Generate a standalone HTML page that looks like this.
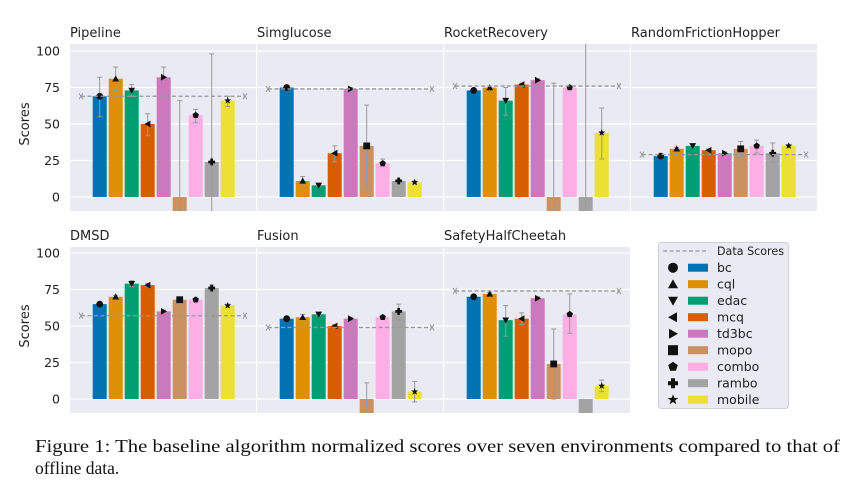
<!DOCTYPE html>
<html><head><meta charset="utf-8"><style>
body{margin:0;background:#fff;width:865px;height:492px;overflow:hidden}
svg{display:block}
</style></head><body>
<svg id="chart" width="865" height="492" xmlns="http://www.w3.org/2000/svg" font-family="'DejaVu Sans','Liberation Sans',sans-serif"></svg>
<script>
const algos = ["bc","cql","edac","mcq","td3bc","mopo","combo","rambo","mobile"];
const colors = ["#0173b2","#de8f05","#029e73","#d55e00","#cc78bc","#ca9161","#fbafe4","#a3a3a3","#ece133"];
const markers = ["circle","up","down","left","right","square","pentagon","plus","star"];
const envs = ["Pipeline","Simglucose","RocketRecovery","RandomFrictionHopper","DMSD","Fusion","SafetyHalfCheetah"];
const dataScores = [69,74,76,29,57,49,74];
const scores = [
 [69,81,73,50,82,-12,56,24,66],
 [75,11,8,30,74,35,23,11,10],
 [73,75,66,77,80,-12,75,-12,44],
 [28,33,35,32,30,33,35,30,35],
 [65,70,79,78,60,68,68,76,64],
 [55,56,58,50,55,-12,56,60,5],
 [70,72,54,55,69,24,58,-12,9]
];
const errLo = [
 [55,73,69,42,75,-12,51,-12,62],
 [74,8,7,24,73,6,21,10,9],
 [72,74,56,76,79,-12,74,-12,26],
 [28,32,34,31,30,28,30,24,34],
 [64,69,77,77,59,67,67,74,63],
 [54,53,57,49,54,-12,55,54,-2],
 [69,71,43,51,68,0,45,-12,5]
];
const errHi = [
 [82,89,77,57,89,66,60,98,69],
 [76,14,9,35,75,63,26,12,11],
 [74,76,75,78,81,78,76,120,61],
 [29,34,36,33,31,38,39,37,36],
 [66,71,81,79,61,69,69,78,65],
 [56,58,59,51,56,11,57,65,12],
 [71,73,64,59,70,48,72,-12,13]
];
const yTicks = [0,25,50,75,100];

const svg = document.getElementById('chart');
const NS = "http://www.w3.org/2000/svg";
function mk(tag, attrs, parent){const e=document.createElementNS(NS,tag);for(const k in attrs)e.setAttribute(k,attrs[k]);(parent||svg).appendChild(e);return e;}

function markerShape(type,cx,cy,g,s){
  s=s||3.4;let e;
  if(type==="circle") e=mk('circle',{cx:cx,cy:cy,r:s},g);
  else if(type==="square") e=mk('rect',{x:cx-s,y:cy-s,width:2*s,height:2*s},g);
  else {
    let pts;
    if(type==="up") pts=[[0,-s],[s,s*0.8],[-s,s*0.8]];
    else if(type==="down") pts=[[0,s],[s,-s*0.8],[-s,-s*0.8]];
    else if(type==="left") pts=[[-s,0],[s*0.8,-s],[s*0.8,s]];
    else if(type==="right") pts=[[s,0],[-s*0.8,-s],[-s*0.8,s]];
    else if(type==="pentagon"){pts=[];for(let i=0;i<5;i++){const a=-Math.PI/2+i*2*Math.PI/5;pts.push([s*Math.cos(a),s*Math.sin(a)]);}}
    else if(type==="plus"){const a=s,b=s*0.4;pts=[[-b,-a],[b,-a],[b,-b],[a,-b],[a,b],[b,b],[b,a],[-b,a],[-b,b],[-a,b],[-a,-b],[-b,-b]];}
    else {pts=[];for(let i=0;i<10;i++){const r=i%2?s*0.45:s*1.1;const a=-Math.PI/2+i*Math.PI/5;pts.push([r*Math.cos(a),r*Math.sin(a)]);}}
    e=mk('polygon',{points:pts.map(p=>(cx+p[0])+','+(cy+p[1])).join(' ')},g);
  }
  e.setAttribute('fill','#111');
  return e;
}

const panelW=186, step=187;
const rows=[{top:44,bottom:211,y0:197},{top:247,bottom:413,y0:399}];
const ppu=1.46;

envs.forEach((env,p)=>{
  const r=rows[p<4?0:1];
  const left=70+(p%4)*step;
  const yS=v=>r.y0-v*ppu;
  const g=mk('g',{});
  
  
  const clipId='clip'+p;
  const cp=mk('clipPath',{id:clipId},g);
  mk('rect',{x:left,y:r.top,width:panelW,height:r.bottom-r.top},cp);
  const bg=mk('rect',{x:left,y:r.top,width:panelW,height:r.bottom-r.top,fill:'#eaeaf2'},g);
  
  
  yTicks.forEach(t=>{
    const gl=mk('line',{x1:left,x2:left+panelW,y1:yS(t),y2:yS(t),stroke:'#fff','stroke-width':1.2},g);
    
    
  });
  const tt=mk('text',{x:left,y:r.top-7,'font-size':13,fill:'#222'},g);
  tt.textContent=env;
  
  
  if(p%4===0){
    yTicks.forEach(t=>{
      const tl=mk('text',{x:60,y:yS(t)+4.5,'font-size':12.5,fill:'#222','text-anchor':'end'},svg);
      tl.textContent=t;
      
      
    });
    const yt=mk('text',{x:0,y:0,'font-size':13,fill:'#222','text-anchor':'middle',transform:`translate(29,${yS(50)}) rotate(-90)`},svg);
    yt.textContent='Scores';
    
    
  }
  const cg=mk('g',{'clip-path':`url(#${clipId})`},g);
  scores[p].forEach((v,i)=>{
    const bx=left+22.7+i*16;
    const y1=yS(Math.max(v,0)), y2=yS(Math.min(v,0));
    const b=mk('rect',{x:bx,y:y1,width:14,height:Math.max(y2-y1,0.5),fill:colors[i]},cg);
    
    
  });
  scores[p].forEach((v,i)=>{
    const cx=left+22.7+i*16+7;
    const e=mk('g',{stroke:'#9a9a9a','stroke-width':1},cg);
    
    
    const lo=yS(errLo[p][i]), hi=yS(errHi[p][i]);
    mk('line',{x1:cx,x2:cx,y1:lo,y2:hi},e);
    mk('line',{x1:cx-2.5,x2:cx+2.5,y1:lo,y2:lo},e);
    mk('line',{x1:cx-2.5,x2:cx+2.5,y1:hi,y2:hi},e);
    const m=markerShape(markers[i],cx,yS(v),cg);
    
    
  });
  const dy=yS(dataScores[p]);
  const dl=mk('line',{x1:left+11,x2:left+175,y1:dy,y2:dy,stroke:'#999','stroke-width':1.3,'stroke-dasharray':'4,2.5'},g);
  
  
  [left+11,left+175].forEach(x=>{
    const c=mk('path',{d:`M${x-2},${dy-3} L${x},${dy} L${x-2},${dy+3} M${x+2},${dy-3} L${x},${dy} L${x+2},${dy+3}`,stroke:'#999',fill:'none','stroke-width':1},g);
    
    
  });
});

// legend
const lg=mk('g',{});


mk('rect',{x:658.5,y:242.5,width:130,height:166,rx:3,fill:'#eaeaf2',stroke:'#d0d0d8'},lg);
const dsl=mk('line',{x1:663,x2:707,y1:251,y2:251,stroke:'#999','stroke-width':1.3,'stroke-dasharray':'4,2.5'},lg);


const dst=mk('text',{x:717,y:255,'font-size':11.8,fill:'#222',textLength:67,lengthAdjust:'spacingAndGlyphs'},lg);
dst.textContent='Data Scores';
algos.forEach((a,i)=>{
  const y=267.7+i*16.5;
  const eg=mk('g',{},lg);
  
  
  markerShape(markers[i],673,y,eg,5);
  mk('rect',{x:688,y:y-4,width:20,height:8,fill:colors[i]},eg);
  const t=mk('text',{x:717,y:y+4.5,'font-size':12.5,fill:'#222'},eg);
  t.textContent=a;
});

const c1=mk('text',{x:35,y:452,'font-size':17.5,'font-family':"'Liberation Serif',serif",fill:'#111',textLength:805,lengthAdjust:'spacingAndGlyphs'});
c1.textContent='Figure 1: The baseline algorithm normalized scores over seven environments compared to that of';


const c2=mk('text',{x:35,y:474,'font-size':17.5,'font-family':"'Liberation Serif',serif",fill:'#111'});
c2.textContent='offline data.';


</script>
</body></html>
